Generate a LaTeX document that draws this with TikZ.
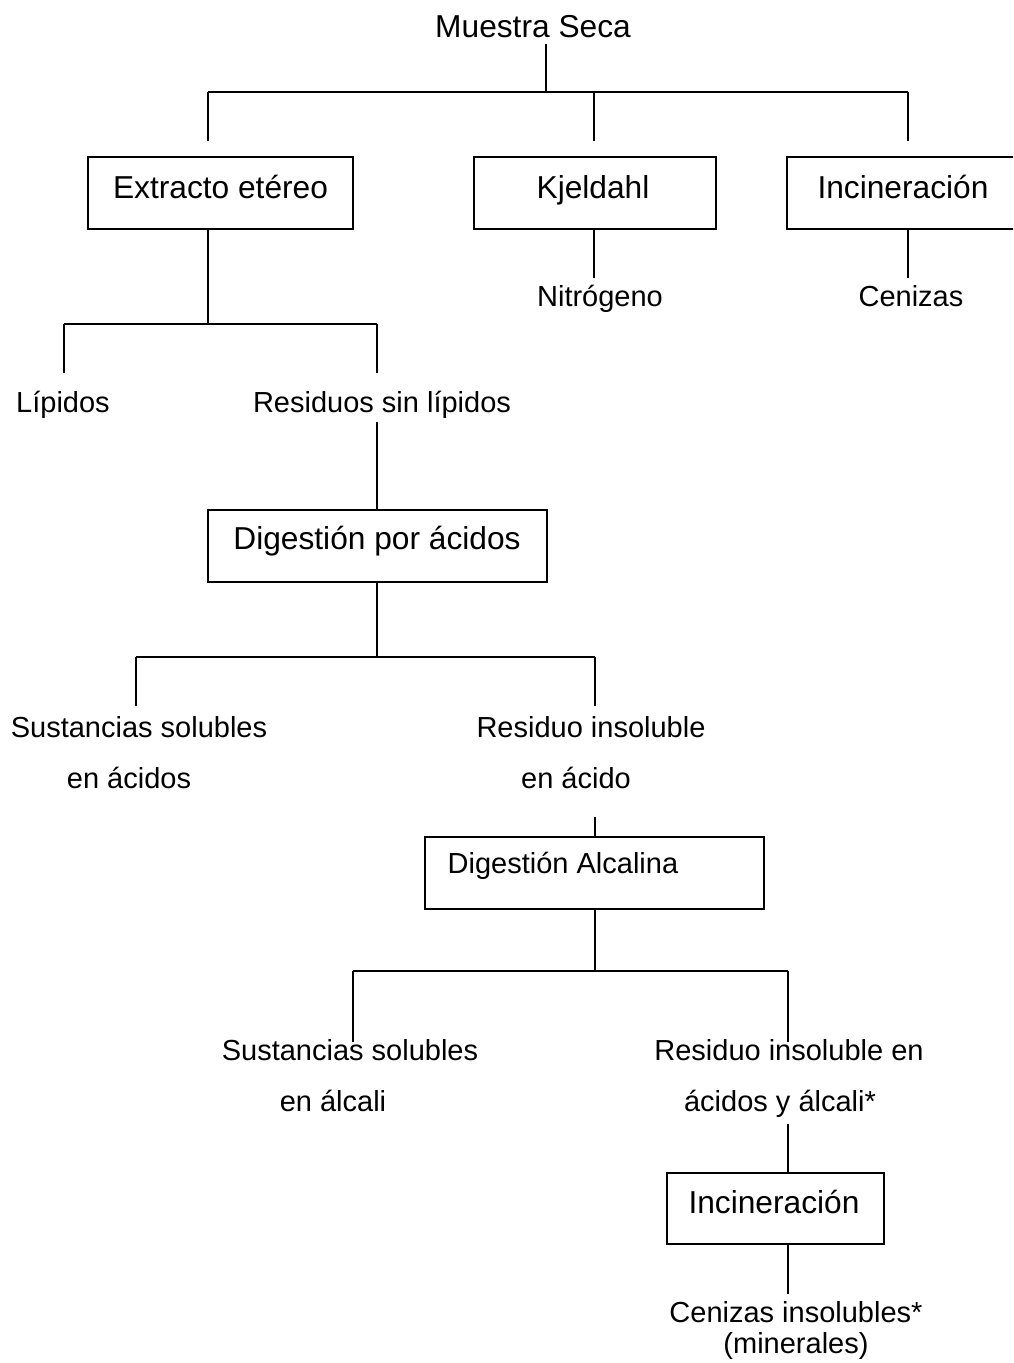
\documentclass[tikz,border=0pt]{standalone}
\usepackage{fontspec}
\setmainfont{Liberation Sans}
\begin{document}
\begin{tikzpicture}[x=1pt,y=-1pt]
\tikzset{
  boxst/.style={draw, line width=1.8pt, inner sep=0pt, rectangle},
  big/.style={font=\fontsize{31.7}{38}\selectfont, anchor=base, inner sep=0pt},
  small/.style={font=\fontsize{29}{35}\selectfont, anchor=base, inner sep=0pt},
  conn/.style={line width=1.5pt}
}
\clip (0,0) rectangle (1013,1363);
\fill[white] (0,0) rectangle (1013,1363);

% boxes
\node[boxst, minimum width=265pt, minimum height=72pt] (ext) at (220.5,193) {};
\node[boxst, minimum width=242pt, minimum height=72pt] (kje) at (595,193) {};
\node[boxst, minimum width=232pt, minimum height=72pt] (incA) at (903,193) {};
\node[boxst, minimum width=339pt, minimum height=72pt] (dpa) at (377.5,546) {};
\node[boxst, minimum width=339pt, minimum height=72pt] (dal) at (594.5,873) {};
\node[boxst, minimum width=217pt, minimum height=71pt] (incB) at (775.5,1208.5) {};

% texts
\node[big] (ms) at (533,37) {Muestra Seca};
\node[big] (extt) at (220.5,198) {Extracto etéreo};
\node[big] (kjet) at (593,198) {Kjeldahl};
\node[big] (incAt) at (903,198) {Incineración};
\node[small] (nit) at (600,306) {Nitrógeno};
\node[small] (cen) at (911,306) {Cenizas};
\node[small] (lip) at (63,412) {Lípidos};
\node[small] (res) at (382,412) {Residuos sin lípidos};
\node[big] (dpat) at (377,549) {Digestión por ácidos};
\node[small] (susA) at (139,737) {Sustancias solubles};
\node[small] (susAb) at (129,788) {en ácidos};
\node[small] (riA) at (591,737) {Residuo insoluble};
\node[small] (riAb) at (576,788) {en ácido};
\node[small] (dalt) at (563,873) {Digestión Alcalina};
\node[small] (susB) at (350,1060) {Sustancias solubles};
\node[small] (susBb) at (333,1111) {en álcali};
\node[small] (riB) at (789,1060) {Residuo insoluble en};
\node[small] (riBb) at (780,1111) {ácidos y álcali*};
\node[big] (incBt) at (774,1213) {Incineración};
\node[small] (cz) at (796,1322) {Cenizas insolubles*};
\node[small] (czb) at (796,1353) {(minerales)};

% junction coordinates
\coordinate (j0) at (546,92);
\coordinate (j0l) at (208,92);
\coordinate (j0m) at (594,92);
\coordinate (j0r) at (908,92);
\coordinate (j1) at (208,324);
\coordinate (j1l) at (64,324);
\coordinate (j1r) at (377,324);
\coordinate (j2) at (377,657);
\coordinate (j2l) at (136,657);
\coordinate (j2r) at (595,657);
\coordinate (j3) at (595,971);
\coordinate (j3l) at (353,971);
\coordinate (j3r) at (788,971);

% connectors
\draw[conn] (546,44) -- (j0);
\draw[conn] (j0l) -- (j0r);
\draw[conn] (j0l) -- ++(0,49);
\draw[conn] (j0m) -- ++(0,49);
\draw[conn] (j0r) -- ++(0,49);
\draw[conn] (ext.south -| j1) -- (j1);
\draw[conn] (j1l) -- (j1r);
\draw[conn] (j1l) -- ++(0,49);
\draw[conn] (j1r) -- ++(0,49);
\draw[conn] (kje.south -| j0m) -- ++(0,48);
\draw[conn] (incA.south -| j0r) -- ++(0,48);
\draw[conn] (377,422) -- (dpa.north -| j1r);
\draw[conn] (dpa.south -| j2) -- (j2);
\draw[conn] (j2l) -- (j2r);
\draw[conn] (j2l) -- ++(0,49);
\draw[conn] (j2r) -- ++(0,49);
\draw[conn] (595,817) -- (dal.north -| j2r);
\draw[conn] (dal.south -| j3) -- (j3);
\draw[conn] (j3l) -- (j3r);
\draw[conn] (j3l) -- ++(0,71);
\draw[conn] (j3r) -- ++(0,71);
\draw[conn] (788,1124) -- (incB.north -| j3r);
\draw[conn] (incB.south -| j3r) -- ++(0,49);
\end{tikzpicture}
\end{document}
